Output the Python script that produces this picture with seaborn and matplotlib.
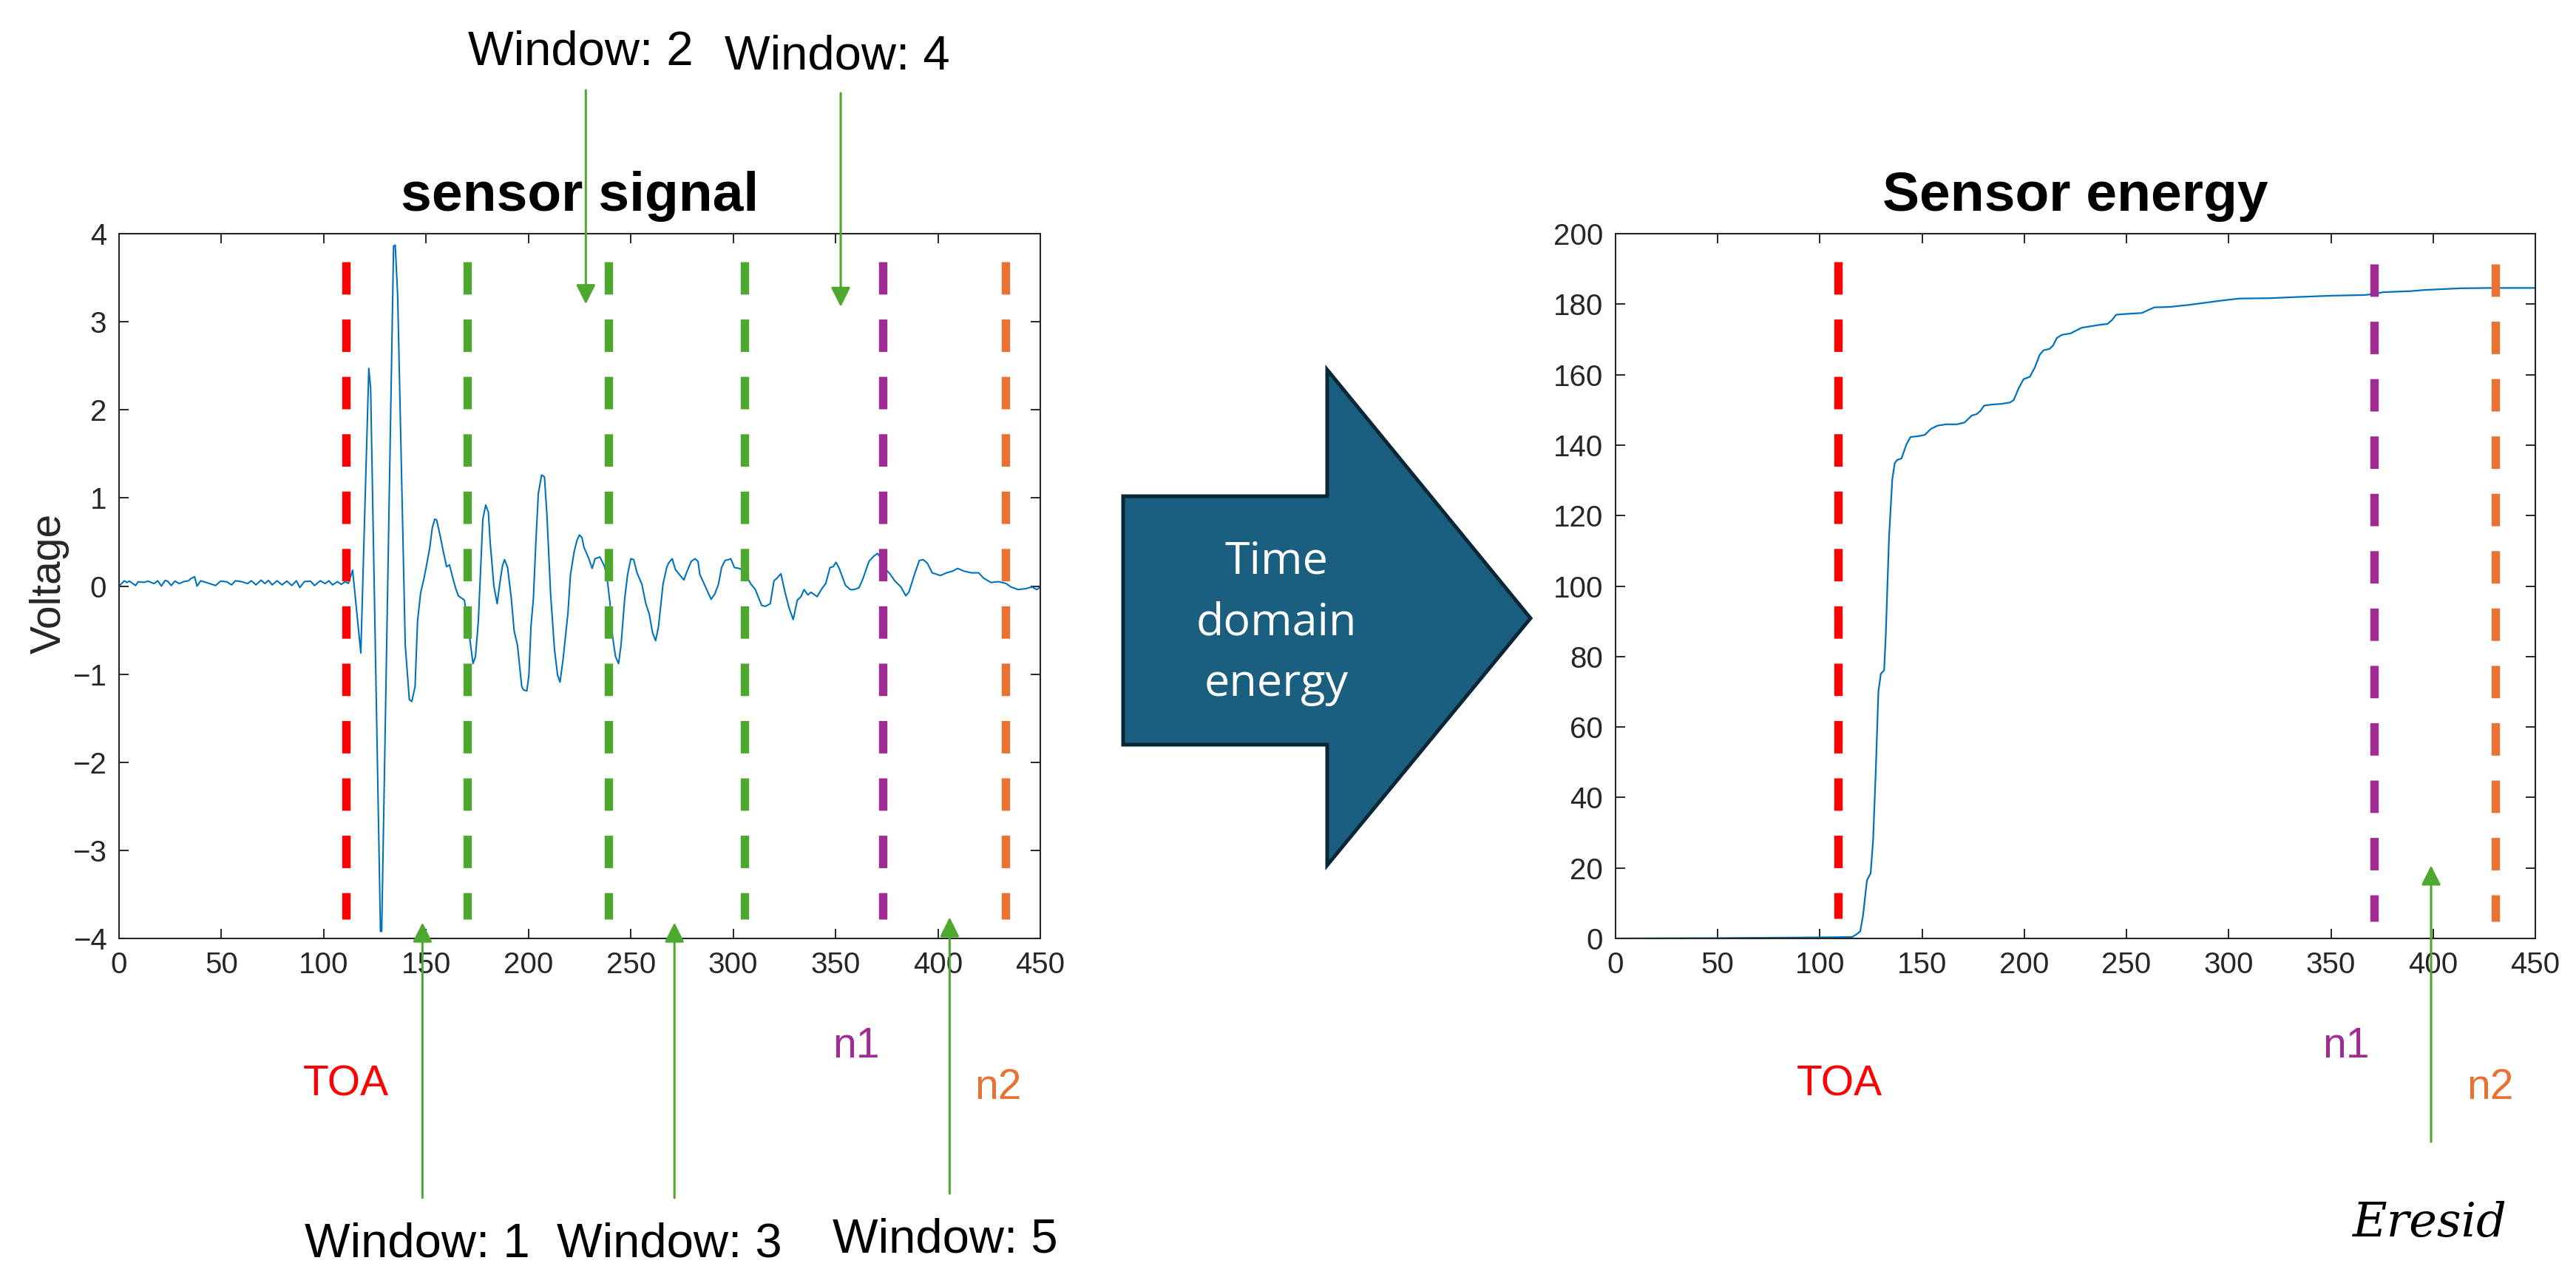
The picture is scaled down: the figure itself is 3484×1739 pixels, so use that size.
import matplotlib
matplotlib.use("Agg")
import matplotlib.pyplot as plt
from matplotlib import font_manager as fm
from matplotlib.patches import Polygon
import seaborn as sns
import pandas as pd

# ---- data ----
sig_t = [0, 2.6, 3.8, 5.1, 8.1, 9.3, 12.3, 14.1, 17.1, 18.9, 20.7, 22.5, 23.7, 25.5, 27.3, 29.4,
         31.5, 33.9, 35.1, 36.9, 38.1, 39.9, 43.5, 47.2, 49.6, 52.6, 55, 56.8, 59.8, 62.8, 64.6,
         66.9, 69.4, 71.2, 73, 74.8, 77.2, 79.6, 82, 84.4, 86.6, 88.3, 90.5, 93.5, 95.5, 98.3,
         100.7, 102.5, 104.3, 106.7, 108.5, 110.5, 112, 114.1, 118.1, 122, 122.9, 127.7, 128.3,
         134.1, 134.9, 136.1, 139.8, 141.8, 143, 144.6, 145.8, 147.3, 148.8, 150, 151.8, 153,
         154.2, 155.1, 156.6, 158.4, 160, 161.4, 163.3, 164.5, 165.7, 168.7, 170.5, 172.9, 174.1,
         175.5, 177.7, 179.1, 180.4, 181.3, 183.1, 184.7, 186.1, 187.3, 188.3, 189.8, 191.6, 193,
         194.6, 196.7, 197.6, 199.2, 200.2, 201.2, 202.4, 203.6, 204.8, 206.4, 207.8, 209, 210.8,
         212.7, 214.2, 215.4, 216.9, 219.3, 220.5, 222.3, 223.7, 224.9, 226.1, 227.1, 229.5, 231.1,
         232.5, 234.9, 237, 238.2, 239.8, 241, 242.5, 244, 245.2, 247, 248.4, 250, 251.4, 253,
         255.4, 257.2, 259, 260.6, 262.1, 263.5, 265.7, 267.5, 268.4, 270.2, 271.7, 274.1, 275.9,
         277.5, 279.5, 281.3, 282.8, 283.7, 286.1, 289.2, 291, 292.8, 294.3, 296, 297.6, 298.8,
         300.6, 303, 305.4, 308.4, 310.8, 313.9, 315.7, 318.1, 319.9, 321.4, 323.3, 325.3, 327.3,
         329.3, 331.3, 333.1, 334.6, 336.5, 338, 341, 343, 345.2, 347.3, 348.8, 350.2, 351.8,
         354.8, 357.2, 359, 361.4, 363.3, 366.3, 368.7, 370.5, 372.3, 374.1, 376.5, 378.9, 381.9,
         384.3, 385.8, 388.5, 390.9, 392.8, 394.8, 397.2, 401.2, 404.2, 407.2, 409.6, 412.6, 416.3,
         419.9, 422.3, 425.9, 429.6, 433.2, 435.6, 439.2, 442.8, 445.9, 448.3, 450]
sig_v = [0.0, 0.06, 0.04, 0.056, 0.006, 0.048, 0.042, 0.056, 0.028, 0.06, 0.0, 0.064, 0.056, 0.006,
         0.056, 0.028, 0.05, 0.06, 0.084, 0.106, 0.0, 0.06, 0.034, 0.006, 0.056, 0.048, 0.014, 0.06,
         0.05, 0.028, 0.06, 0.014, 0.067, 0.028, 0.064, 0.014, 0.06, 0.014, 0.056, 0.006, 0.06,
         -0.017, 0.05, 0.056, 0.006, 0.06, 0.028, 0.06, 0.014, 0.05, 0.02, 0.05, 0.03, 0.18, -0.76,
         2.47, 2.24, -3.92, -3.92, 3.86, 3.87, 3.30, -0.67, -1.29, -1.31, -1.14, -0.40, -0.08, 0.07,
         0.21, 0.44, 0.66, 0.76, 0.75, 0.60, 0.39, 0.22, 0.24, 0.07, -0.03, -0.11, -0.16, -0.45,
         -0.88, -0.80, -0.40, 0.76, 0.92, 0.84, 0.49, 0.0, -0.20, 0.05, 0.23, 0.30, 0.21, -0.14,
         -0.51, -0.67, -1.14, -1.18, -1.19, -1.01, -0.46, -0.14, 0.50, 1.05, 1.26, 1.24, 0.81, -0.09,
         -0.72, -1.01, -1.09, -0.83, -0.30, 0.13, 0.39, 0.52, 0.58, 0.55, 0.44, 0.31, 0.20, 0.31,
         0.33, 0.23, 0.13, -0.19, -0.56, -0.80, -0.88, -0.67, -0.14, 0.13, 0.31, 0.30, 0.15, 0.02,
         -0.19, -0.32, -0.53, -0.62, -0.46, 0.02, 0.21, 0.26, 0.31, 0.19, 0.12, 0.07, 0.17, 0.28,
         0.31, 0.28, 0.13, 0.01, -0.15, -0.09, 0.02, 0.21, 0.29, 0.30, 0.31, 0.21, 0.20, 0.17, 0.03,
         -0.04, -0.22, -0.23, -0.20, 0.06, 0.09, 0.14, -0.07, -0.25, -0.38, -0.16, -0.12, -0.04,
         -0.10, -0.07, -0.12, -0.04, 0.03, 0.21, 0.22, 0.27, 0.20, 0.01, -0.04, -0.04, -0.02, 0.08,
         0.28, 0.34, 0.37, 0.31, 0.20, 0.14, 0.06, -0.01, -0.11, -0.07, 0.13, 0.29, 0.30, 0.26,
         0.15, 0.12, 0.15, 0.17, 0.20, 0.17, 0.15, 0.15, 0.09, 0.04, 0.05, 0.03, -0.01, -0.04,
         -0.03, -0.01, -0.04, -0.01]

en_t = [0, 50, 100, 115.7, 117.5, 119.7, 121.1, 123, 124.8, 126, 127.4, 128.6, 129.8, 131.4, 132.2,
        133.8, 135.4, 136.6, 137.8, 139.9, 142.3, 144.3, 147.7, 151.3, 154.3, 157.4, 161.6, 167,
        170.7, 174.3, 176.7, 178.5, 180.3, 183.9, 188.8, 193, 194.8, 197.2, 199.6, 202.7, 205.1,
        207.5, 209.3, 212.3, 214.1, 215.9, 218.4, 222.6, 228, 236.5, 240.7, 242.9, 244.9, 249.2,
        257.6, 260.1, 263.7, 270.9, 280.6, 296.2, 305.2, 320.2, 332.2, 350.2, 366.6, 371.1, 375.6,
        389.1, 395.1, 413.1, 428.1, 450]
en_v = [0, 0.1, 0.3, 0.4, 1.0, 2.0, 6.6, 16.5, 18.5, 27.8, 48.9, 70.1, 75.1, 76.1, 86.0, 113.8,
        130.3, 134.9, 135.8, 136.2, 140.2, 142.3, 142.5, 142.9, 144.6, 145.5, 145.9, 145.9, 146.4,
        148.4, 148.8, 149.7, 151.2, 151.5, 151.7, 152.1, 152.8, 156.1, 158.7, 159.4, 162.0, 165.6,
        166.9, 167.3, 168.3, 170.4, 171.3, 171.7, 173.3, 174.1, 174.4, 175.5, 177.0, 177.2, 177.5,
        178.2, 179.1, 179.2, 179.8, 181.0, 181.6, 181.7, 182.0, 182.4, 182.6, 182.9, 183.4, 183.7,
        184.0, 184.5, 184.6, 184.6]

# marker positions
left_toa, left_n1, left_n2 = 111, 373, 433
left_windows = [170, 239, 305.5]
right_toa, right_n1, right_n2 = 109, 371, 430.5
win_labels = ["Window: 1", "Window: 2", "Window: 3", "Window: 4", "Window: 5"]
win_arrow_x = [148.2, 228, 271.3, 352.5, 405.7]
eresid_x = 399

RED, GREEN, PURPLE, ORANGE = "#FF0000", "#4EA72E", "#A02B93", "#E97132"
BLUE = "#0072BD"
INK = "#262626"

sns.set_theme(style="ticks")
plt.rcParams["font.family"] = ["Liberation Sans", "DejaVu Sans"]

# the MATLAB labels look condensed; use the narrow face if it is there
names = {f.name for f in fm.fontManager.ttflist}
if "Liberation Sans Narrow" in names:
    NARROW, win_size, volt_size = "Liberation Sans Narrow", 27, 22
else:
    NARROW, win_size, volt_size = "Liberation Sans", 23.5, 20.5

W, H = 3484, 1739
DPI = 200
fig = plt.figure(figsize=(W / DPI, H / DPI), dpi=DPI)


def fx(px):
    return px / W


def fy(py):
    return 1 - py / H


ax1 = fig.add_axes([fx(161), fy(1269), fx(1407) - fx(161), fy(316) - fy(1269)])
ax2 = fig.add_axes([fx(2185), fy(1269), fx(3429) - fx(2185), fy(316) - fy(1269)])

df_sig = pd.DataFrame({"t": sig_t, "v": sig_v})
df_en = pd.DataFrame({"t": en_t, "e": en_v})
sns.lineplot(data=df_sig, x="t", y="v", ax=ax1, color=BLUE, linewidth=0.75,
             estimator=None, sort=False)
sns.lineplot(data=df_en, x="t", y="e", ax=ax2, color=BLUE, linewidth=0.8,
             estimator=None, sort=False)

for ax in (ax1, ax2):
    ax.set_xlim(0, 450)
    ax.set_xticks(range(0, 451, 50))
    ax.set_xlabel("")
    ax.set_ylabel("")
    ax.tick_params(direction="in", top=True, right=True, length=4.7, width=0.7,
                   colors=INK, labelsize=14.5, pad=6)
    for s in ax.spines.values():
        s.set_visible(True)
        s.set_color(INK)
        s.set_linewidth(0.75)

ax1.set_ylim(-4, 4)
ax1.set_yticks(range(-4, 5))
ax2.set_ylim(0, 200)
ax2.set_yticks(range(0, 201, 20))

dash_kw = dict(lw=4.1, dashes=(3.85, 2.96), dash_capstyle="butt", zorder=5)
ax1.plot([left_toa, left_toa], [3.68, -3.78], color=RED, **dash_kw)
for x in left_windows:
    ax1.plot([x, x], [3.68, -3.78], color=GREEN, **dash_kw)
ax1.plot([left_n1, left_n1], [3.68, -3.78], color=PURPLE, **dash_kw)
ax1.plot([left_n2, left_n2], [3.68, -3.78], color=ORANGE, **dash_kw)
ax2.plot([right_toa, right_toa], [192.1, 5.6], color=RED, **dash_kw)
ax2.plot([right_n1, right_n1], [191.5, 4.9], color=PURPLE, **dash_kw)
ax2.plot([right_n2, right_n2], [191.5, 4.9], color=ORANGE, **dash_kw)

tfont = dict(fontsize=27, fontweight="bold", color="black")
ax1.set_title("sensor signal", pad=11, **tfont)
ax2.set_title("Sensor energy", pad=11, **tfont)
fig.text(fx(67), fy(789), "Voltage", rotation=90, ha="center", va="center",
         fontsize=volt_size, color=INK, family=[NARROW, "DejaVu Sans"])

# window arrows
arrow_kw = dict(arrowstyle="-|>,head_length=0.4,head_width=0.2", color=GREEN, lw=1.1,
                mutation_scale=20, shrinkA=0, shrinkB=0)
tr1 = ax1.get_xaxis_transform()
tips = [-3.82, 3.2, -3.82, 3.17, -3.76]
tails = [-0.368, 1.2036, -0.368, 1.1994, -0.362]
for x, tip, tail in zip(win_arrow_x, tips, tails):
    ax1.annotate("", xy=(x, tip), xycoords="data", xytext=(x, tail), textcoords=tr1,
                 arrowprops=arrow_kw, annotation_clip=False, zorder=10)

wfont = dict(fontsize=win_size, color="black", ha="center", va="baseline",
             family=[NARROW, "DejaVu Sans"])
fig.text(fx(564), fy(1700), win_labels[0], **wfont)
fig.text(fx(785), fy(88), win_labels[1], **wfont)
fig.text(fx(905), fy(1700), win_labels[2], **wfont)
fig.text(fx(1132), fy(93), win_labels[3], **wfont)
fig.text(fx(1278), fy(1693), win_labels[4], **wfont)

# marker labels
lfont = dict(fontsize=20.5, ha="center", va="center")
fig.text(fx(468), fy(1467), "TOA", color=RED, **lfont)
fig.text(fx(1158), fy(1415), "n1", color=PURPLE, **lfont)
fig.text(fx(1350), fy(1471), "n2", color=ORANGE, **lfont)
fig.text(fx(2488), fy(1467), "TOA", color=RED, **lfont)
fig.text(fx(3173), fy(1415), "n1", color=PURPLE, **lfont)
fig.text(fx(3368), fy(1471), "n2", color=ORANGE, **lfont)

tr2 = ax2.get_xaxis_transform()
ax2.annotate("", xy=(eresid_x, 20.7), xycoords="data", xytext=(eresid_x, -0.2886),
             textcoords=tr2, arrowprops=arrow_kw, annotation_clip=False, zorder=10)
fig.text(fx(3286), fy(1655), "Eresid", family="DejaVu Serif", style="italic",
         fontsize=23, ha="center", va="center", color="black")

# big block arrow in the middle
pts = [(1519, 671), (1795, 671), (1795, 500), (2070, 836), (1795, 1170), (1795, 1007), (1519, 1007)]
poly = Polygon([(fx(x), fy(y)) for x, y in pts], closed=True, transform=fig.transFigure,
               facecolor="#1A5F80", edgecolor="#0B2636", linewidth=1.8)
fig.add_artist(poly)
fig.text(fx(1726), fy(842), "Time\ndomain\nenergy", color="white", fontsize=22,
         family="Open Sans", ha="center", va="center", linespacing=1.5)

fig.savefig("out.png", dpi=DPI, facecolor="white")
